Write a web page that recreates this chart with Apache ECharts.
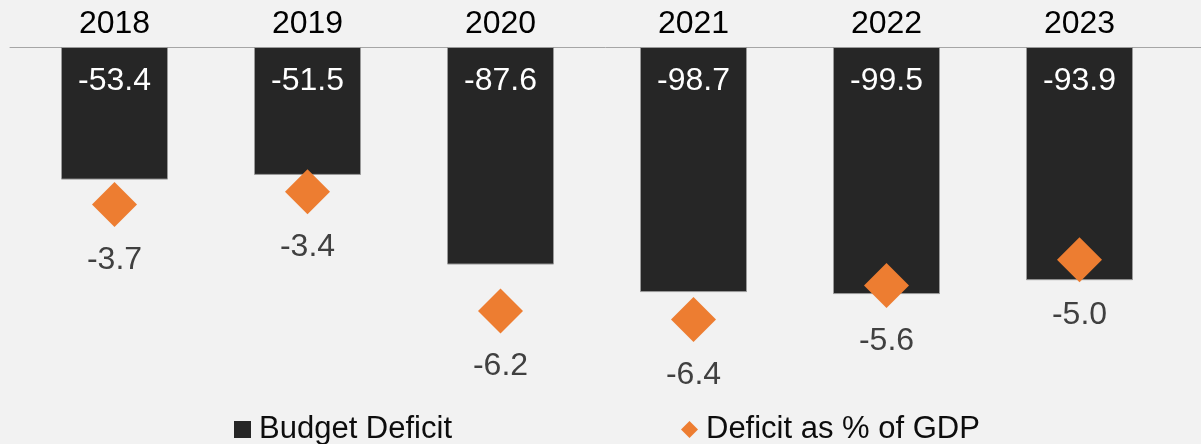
<!DOCTYPE html>
<html>
<head>
<meta charset="utf-8">
<script src="https://cdn.jsdelivr.net/npm/echarts@6/dist/echarts.min.js"></script>
<style>
  html, body { margin: 0; padding: 0; background: #f2f2f2; }
  #chart { width: 1201px; height: 444px; }
</style>
</head>
<body>
<div id="chart"></div>
<script>
const years = ['2018', '2019', '2020', '2021', '2022', '2023']
const budgetDeficit = [-53.4, -51.5, -87.6, -98.7, -99.5, -93.9]
const deficitPctGdp = [-3.7, -3.4, -6.2, -6.4, -5.6, -5.0]

const font = 'Liberation Sans, Arial, sans-serif'
const fs = 32
const chart = echarts.init(document.getElementById('chart'))

const option = {
  backgroundColor: '#f2f2f2',
  animation: false,
  textStyle: { fontFamily: font },
  grid: [
    // main plot
    { left: 18, right: 25, top: 47, height: 298 },
    // only used to draw the long baseline
    { left: 10, right: 0, top: 47, height: 298 }
  ],
  legend: {
    left: 234,
    top: 414,
    padding: 0,
    itemWidth: 17,
    itemHeight: 17,
    itemGap: 229,
    itemStyle: { borderWidth: 0, opacity: 1 },
    textStyle: { fontSize: 31, color: '#0d0d0d', fontFamily: font, padding: [0, 0, 0, 3] },
    data: [
      { name: 'Budget Deficit', icon: 'rect' },
      { name: 'Deficit as % of GDP', icon: 'diamond' }
    ]
  },
  xAxis: [
    {
      type: 'category',
      gridIndex: 0,
      position: 'top',
      data: years,
      axisLine: { show: false },
      axisTick: { show: false },
      axisLabel: { fontSize: fs, color: '#000', margin: 7, fontFamily: font }
    },
    {
      type: 'category',
      gridIndex: 1,
      position: 'top',
      data: years,
      axisLine: { show: true, lineStyle: { color: '#a6a6a6', width: 1 } },
      axisTick: { show: false },
      axisLabel: { show: false }
    }
  ],
  yAxis: [
    { type: 'value', gridIndex: 0, min: -120, max: 0, show: false },
    { type: 'value', gridIndex: 0, min: -7, max: 0, show: false },
    { type: 'value', gridIndex: 1, min: -1, max: 0, show: false }
  ],
  series: [
    {
      name: 'Budget Deficit',
      type: 'bar',
      xAxisIndex: 0,
      yAxisIndex: 0,
      data: budgetDeficit,
      barWidth: 107,
      itemStyle: { color: '#262626', borderColor: '#9a9a9a', borderWidth: 1 },
      label: {
        show: true,
        position: 'insideTop',
        distance: 18,
        color: '#fff',
        fontSize: fs,
        fontFamily: font,
        formatter: p => p.value.toFixed(1)
      },
      z: 2
    },
    {
      name: 'Deficit as % of GDP',
      type: 'scatter',
      xAxisIndex: 0,
      yAxisIndex: 1,
      data: deficitPctGdp,
      symbol: 'diamond',
      symbolSize: 45,
      itemStyle: { color: '#ed7d31', opacity: 1 },
      label: {
        show: true,
        position: 'bottom',
        distance: 17,
        color: '#404040',
        fontSize: fs,
        fontFamily: font,
        formatter: p => p.value.toFixed(1)
      },
      z: 3
    }
  ]
}

chart.setOption(option)
</script>
</body>
</html>
